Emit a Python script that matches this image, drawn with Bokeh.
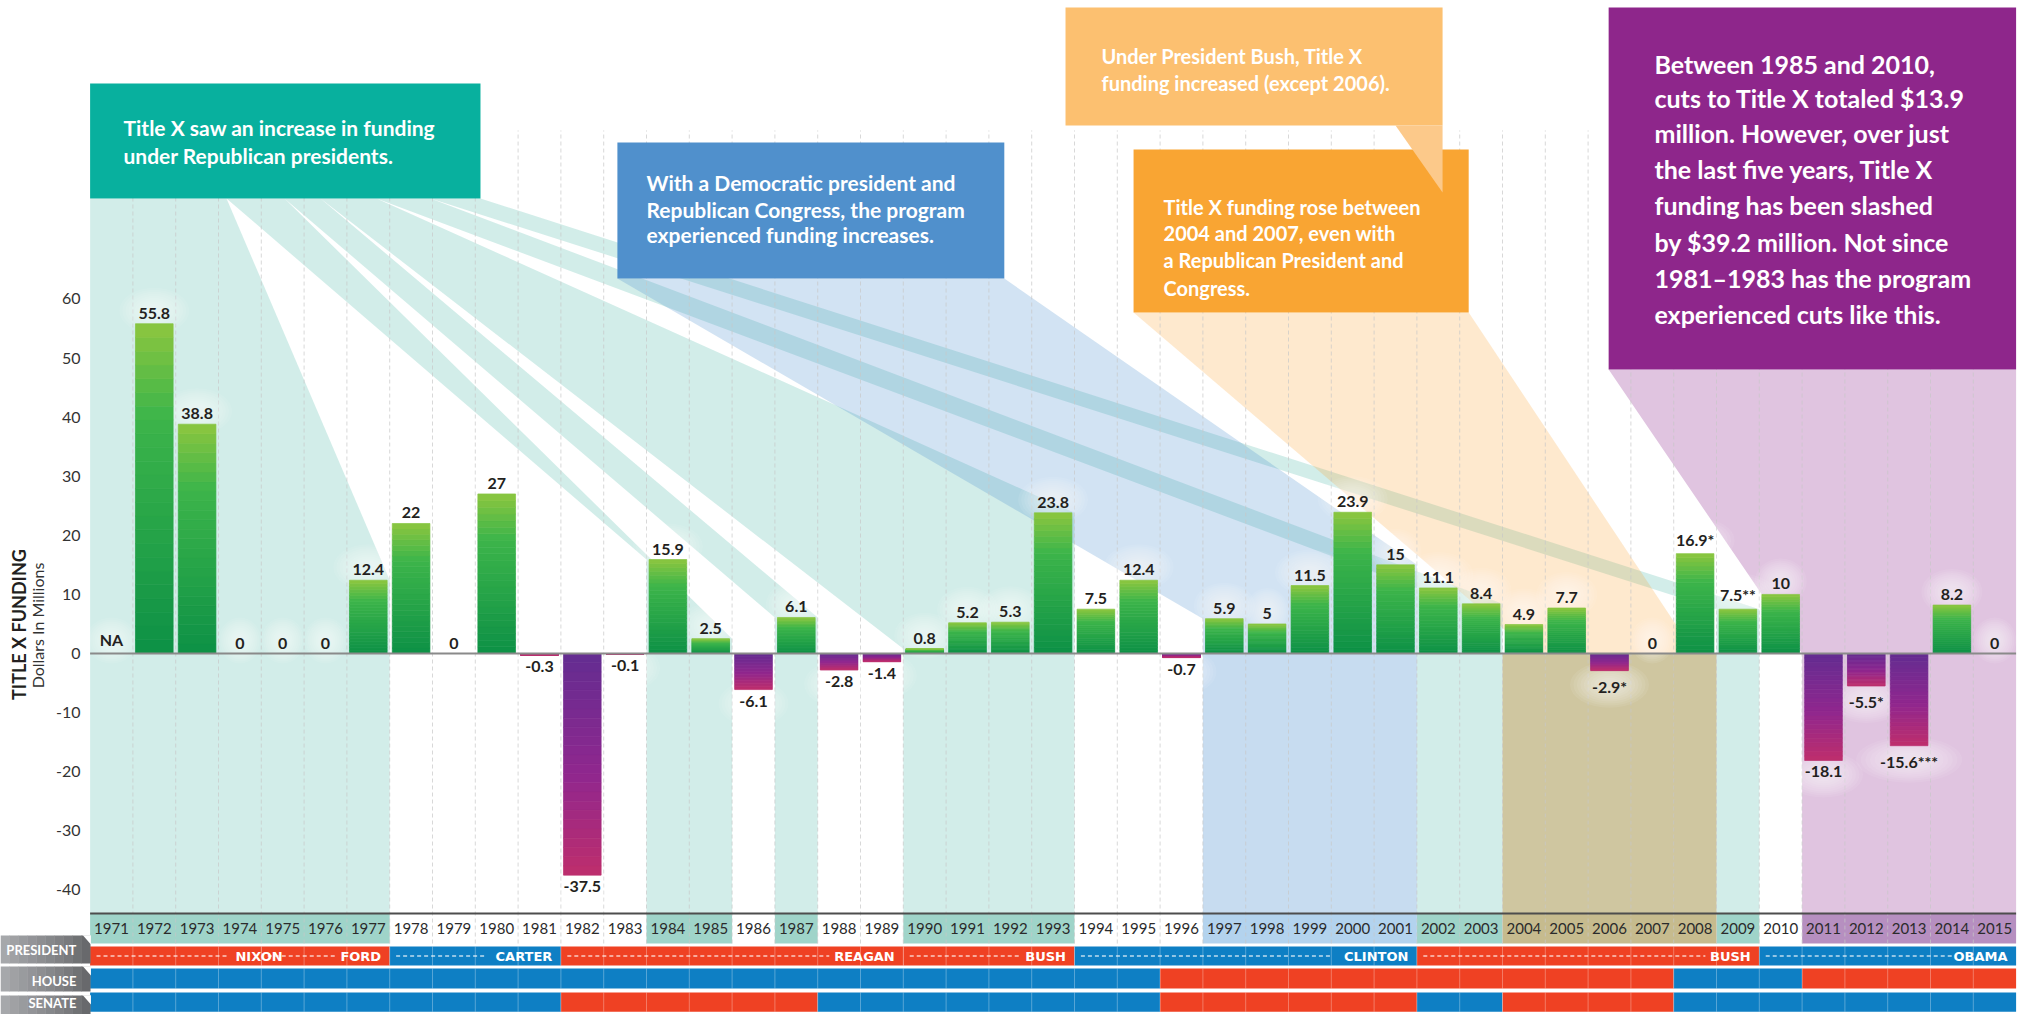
import numpy as np
from bokeh.plotting import figure
from bokeh.models import Range1d
from bokeh.core.properties import value
from bokeh.embed import file_html
from bokeh.resources import INLINE

# ---------------- data ----------------
years = list(range(1971, 2016))
funding = [None, 55.8, 38.8, 0, 0, 0, 12.4, 22, 0, 27,
           -0.3, -37.5, -0.1, 15.9, 2.5, -6.1, 6.1, -2.8, -1.4, 0.8,
           5.2, 5.3, 23.8, 7.5, 12.4, -0.7, 5.9, 5, 11.5, 23.9,
           15, 11.1, 8.4, 4.9, 7.7, -2.9, 0, 16.9, 7.5, 10,
           -18.1, -5.5, -15.6, 8.2, 0]
footnotes = {2006: "*", 2008: "*", 2009: "**", 2012: "*", 2013: "***"}
y_ticks = [60, 50, 40, 30, 20, 10, 0, -10, -20, -30, -40]

president_names = ["NIXON", "FORD", "CARTER", "REAGAN", "BUSH", "CLINTON", "BUSH", "OBAMA"]
president_party = ["R", "R", "D", "R", "R", "D", "R", "D"]
president_first = [1971, 1975, 1978, 1982, 1990, 1994, 2002, 2010]
president_last = [1974, 1977, 1981, 1989, 1993, 2001, 2009, 2015]
president_label_end = [1975.0, 1977.3, 1981.3, 1989.3, 1993.3, 2001.3, 2009.3, 2015.3]

house_runs = [("D", 1971, 1995), ("R", 1996, 2007), ("D", 2008, 2010), ("R", 2011, 2015)]
senate_runs = [("D", 1971, 1981), ("R", 1982, 1987), ("D", 1988, 1995), ("R", 1996, 2001),
               ("D", 2002, 2003), ("R", 2004, 2007), ("D", 2008, 2015)]

teal_groups = [(1971, 1977), (1984, 1985), (1987, 1987), (1990, 1993), (2002, 2003), (2009, 2009)]
blue_groups = [(1997, 2001)]
khaki_groups = [(2004, 2008)]
purple_groups = [(2011, 2015)]

# ---------------- layout (data units: years / $M) ----------------
X0, X1 = 1968.4065, 2015.7897
Y0, Y1 = -61.08, 110.49
AXIS_Y = -44.0
YEAR_ROW = (-49.07, -44.0)
PRES_ROW = (-52.79, -49.58)
HOUSE_ROW = (-56.68, -53.30)
SENATE_ROW = (-60.6, -57.36)
BAR_HALF = 0.44
GRID_TOP = 88.5
PX_PER_UNIT = 5.91   # vertical pixels per $1M, used only to offset label halos

RED, BLUE = "#ef4123", "#0e7fc4"
PARTY = {"R": RED, "D": BLUE}
FONT = value("Lato")
DARK = "#231f20"

p = figure(width=2028, height=1014, x_range=Range1d(X0, X1), y_range=Range1d(Y0, Y1),
           output_backend="svg", toolbar_location=None, min_border=0,
           x_axis_location=None, y_axis_location=None)
p.grid.visible = False
p.outline_line_color = None
p.background_fill_color = "white"
p.border_fill_color = "white"


def val(yr):
    v = funding[years.index(yr)]
    return 0 if v is None else v


def hexrgb(h):
    h = h.lstrip("#")
    return np.array([int(h[i:i + 2], 16) for i in (0, 2, 4)], dtype=float)


def ramp(stops, t):
    for (t0, c0), (t1, c1) in zip(stops[:-1], stops[1:]):
        if t <= t1:
            f = (t - t0) / (t1 - t0) if t1 > t0 else 0
            c = hexrgb(c0) * (1 - f) + hexrgb(c1) * f
            return "#%02x%02x%02x" % tuple(int(round(x)) for x in c)
    return stops[-1][1]


# ---------------- beams & highlight bands ----------------
def beam(sx0, sx1, sy, first, last, vl=None, vr=None):
    L, R = first - 0.5, last + 0.5
    if vl is None:
        vl = max(val(first), 0)
    if vr is None:
        vr = max(val(last), 0)
    return [sx0, sx1, R, R, L, L], [sy, sy, vr, AXIS_Y, AXIS_Y, vl]


TEAL_BOX = (1970.5, 1979.621, 76.99, 96.45)
BLUE_BOX = (1982.82, 1991.86, 63.45, 86.46)
LORANGE_BOX = (1993.29, 2002.10, 89.34, 109.3)
ORANGE_BOX = (1994.88, 2002.71, 57.70, 85.28)
PURPLE_BOX = (2005.98, 2015.5, 48.05, 109.3)

teal_starts = [1970.5, 1973.687, 1975.042, 1975.883, 1977.192, 1978.453, 1979.621]
bxs, bys = [], []
for i, (f, l) in enumerate(teal_groups):
    kw = {"vl": TEAL_BOX[2]} if i == 0 else {}
    xs, ys = beam(teal_starts[i], teal_starts[i + 1], TEAL_BOX[2], f, l, **kw)
    bxs.append(xs)
    bys.append(ys)
p.patches(bxs, bys, fill_color="#43b4a2", fill_alpha=0.24, line_color=None)

# blue beam
f, l = blue_groups[0]
xs, ys = beam(BLUE_BOX[0], BLUE_BOX[1], BLUE_BOX[2], f, l)
p.patches([xs], [ys], fill_color="#4a90d0", fill_alpha=0.25, line_color=None)
p.quad(left=[f - 0.5], right=[l + 0.5], bottom=[AXIS_Y], top=[0],
       fill_color="#4a90d0", fill_alpha=0.08, line_color=None)

# peach beam toward 2004-2007 and khaki band
f, l = khaki_groups[0]
p.patches([[ORANGE_BOX[0], ORANGE_BOX[1], 2008.0, 2004.2]],
          [[ORANGE_BOX[2], ORANGE_BOX[2], 0, 0]],
          fill_color="#f9a533", fill_alpha=0.24, line_color=None)
p.quad(left=[f - 0.5], right=[l + 0.5], bottom=[AXIS_Y], top=[0],
       fill_color="#ad9d5c", fill_alpha=0.58, line_color=None)

# purple beam
f, l = purple_groups[0]
p.patches([[PURPLE_BOX[0], l + 0.5, l + 0.5, f - 0.5, f - 0.5]],
          [[PURPLE_BOX[2], PURPLE_BOX[2], AXIS_Y, AXIS_Y, 0]],
          fill_color="#8e268b", fill_alpha=0.27, line_color=None)

# ---------------- year label row backgrounds ----------------
row_l, row_r, row_c = [], [], []
for groups, col in [(teal_groups, "#9fd4c9"), (blue_groups, "#b3d3ee"),
                    (khaki_groups, "#c6bb8e"), (purple_groups, "#b68fc0")]:
    for f, l in groups:
        row_l.append(f - 0.5)
        row_r.append(l + 0.5)
        row_c.append(col)
p.quad(left=row_l, right=row_r, bottom=YEAR_ROW[0], top=YEAR_ROW[1], fill_color=row_c, line_color=None)

# ---------------- dashed gridlines ----------------
gx = [y + 0.5 for y in years[:-1]]
p.segment(x0=gx, y0=[YEAR_ROW[0]] * len(gx), x1=gx, y1=[GRID_TOP] * len(gx),
          line_color="#c8c8c8", line_dash="4 3", line_width=1, line_alpha=0.7)

# ---------------- annotation boxes ----------------
for (l, r, b, t), col in [(TEAL_BOX, "#08b09e"), (BLUE_BOX, "#5090cc"), (LORANGE_BOX, "#fcc070"),
                          (ORANGE_BOX, "#f9a533"), (PURPLE_BOX, "#8e268b")]:
    p.quad(left=[l], right=[r], bottom=[b], top=[t], fill_color=col, line_color=None)
# callout tail of the light-orange box
p.patches([[2001.0, LORANGE_BOX[1], LORANGE_BOX[1]]], [[LORANGE_BOX[2], LORANGE_BOX[2], 78.0]],
          fill_color="#fcc98a", line_color=None)

box_texts = [
    (["Title X saw an increase in funding", "under Republican presidents."],
     1971.28, [89.0, 84.26], "21px"),
    (["With a Democratic president and", "Republican Congress, the program", "experienced funding increases."],
     1983.50, [79.70, 75.13, 70.9], "21px"),
    (["Under President Bush, Title X", "funding increased (except 2006)."],
     1994.13, [101.18, 96.6], "20px"),
    (["Title X funding rose between", "2004 and 2007, even with", "a Republican President and", "Congress."],
     1995.58, [75.6, 71.1, 66.5, 61.9], "20px"),
    (["Between 1985 and 2010,", "cuts to Title X totaled $13.9", "million. However, over just",
      "the last five years, Title X", "funding has been slashed", "by $39.2 million. Not since",
      "1981\u20131983 has the program", "experienced cuts like this."],
     2007.05, [99.83, 93.91, 87.99, 82.06, 75.97, 69.71, 63.62, 57.53], "25px"),
]
for lines, x, ys, size in box_texts:
    p.text(x=[x] * len(lines), y=ys, text=lines, text_font=FONT, text_font_style="bold",
           text_font_size=size, text_color="white", text_align="left", text_baseline="middle")


# ---------------- value labels (with soft halos) ----------------
def fmt(v):
    if v is None:
        return "NA"
    return str(int(v)) if float(v).is_integer() else str(v)


pos_x, pos_y, pos_t, neg_x, neg_y, neg_t = [], [], [], [], [], []
hx, hy, hw = [], [], []
for yr, v in zip(years, funding):
    lab = fmt(v) + footnotes.get(yr, "")
    if v is None or v >= 0:
        base = 0 if v is None else v
        pos_x.append(yr)
        pos_y.append(base)
        pos_t.append(lab)
        hy.append(base + 13 / PX_PER_UNIT)
    else:
        neg_x.append(yr)
        neg_y.append(v)
        neg_t.append(lab)
        hy.append(v - 14 / PX_PER_UNIT)
    hx.append(yr)
    hw.append(len(lab) * 9 + 34)
for scale in np.linspace(1.0, 0.3, 9):
    p.ellipse(x=hx, y=hy, width=[w * scale for w in hw], height=46 * scale,
              width_units="screen", height_units="screen",
              fill_color="white", fill_alpha=0.08, line_color=None)

# ---------------- gradient bars ----------------
GREEN_STOPS = [(0.0, "#8dc63f"), (0.28, "#3db54a"), (1.0, "#0d9146")]
PURPLE_STOPS = [(0.0, "#632d91"), (0.55, "#90278e"), (1.0, "#be2e6c")]
N = 24
ql, qr, qb, qt, qc = [], [], [], [], []
for yr, v in zip(years, funding):
    if v is None or v == 0:
        continue
    for k in range(N):
        lo, hi = v * k / N, v * (k + 1) / N
        if v > 0:
            t = 1 - (k + 0.5) / N
            col = ramp(GREEN_STOPS, t)
        else:
            t = (k + 0.5) / N
            col = ramp(PURPLE_STOPS, t)
        ql.append(yr - BAR_HALF)
        qr.append(yr + BAR_HALF)
        qb.append(min(lo, hi))
        qt.append(max(lo, hi))
        qc.append(col)
p.quad(left=ql, right=qr, bottom=qb, top=qt, fill_color=qc, line_color=qc, line_width=0.7)

# zero line and year axis line
p.segment(x0=[1970.5], y0=[0], x1=[2015.5], y1=[0], line_color="#8a8a8a", line_width=2)
p.segment(x0=[1970.5], y0=[AXIS_Y], x1=[2015.5], y1=[AXIS_Y], line_color="#4d4d4d", line_width=2)

p.text(x=pos_x, y=pos_y, text=pos_t, text_font=FONT, text_font_style="bold", text_font_size="16px",
       text_color=DARK, text_align="center", text_baseline="bottom", y_offset=-5)
p.text(x=neg_x, y=neg_y, text=neg_t, text_font=FONT, text_font_style="bold", text_font_size="16px",
       text_color=DARK, text_align="center", text_baseline="top", y_offset=6)

# ---------------- y tick labels and axis title ----------------
p.text(x=[1970.276] * len(y_ticks), y=y_ticks, text=[str(t) for t in y_ticks], text_font=FONT,
       text_font_size="16px", text_color="#333333", text_align="right", text_baseline="middle")
p.text(x=[1968.83], y=[4.9], text=["TITLE X FUNDING"], text_font=FONT, text_font_style="bold",
       text_font_size="18px", text_color=DARK, text_align="center", text_baseline="middle",
       angle=np.pi / 2)
p.text(x=[1969.27], y=[4.74], text=["Dollars In Millions"], text_font=FONT,
       text_font_size="16px", text_color="#333333", text_align="center", text_baseline="middle",
       angle=np.pi / 2)

# ---------------- year labels ----------------
p.text(x=years, y=[(YEAR_ROW[0] + YEAR_ROW[1]) / 2] * len(years), text=[str(y) for y in years],
       text_font=FONT, text_font_size="15px", text_color="#2b2b2b", text_align="center",
       text_baseline="middle")


# ---------------- party strips ----------------
def runs_to_quads(runs, row):
    l, r, c = [], [], []
    for party, f, la in runs:
        l.append(f - 0.5)
        r.append(la + 0.5)
        c.append(PARTY[party])
    p.quad(left=l, right=r, bottom=row[0], top=row[1], fill_color=c, line_color=None)


runs_to_quads(list(zip(president_party, president_first, president_last)), PRES_ROW)
runs_to_quads(house_runs, HOUSE_ROW)
runs_to_quads(senate_runs, SENATE_ROW)
for row in (PRES_ROW, HOUSE_ROW, SENATE_ROW):
    p.segment(x0=gx, y0=[row[0]] * len(gx), x1=gx, y1=[row[1]] * len(gx),
              line_color="white", line_alpha=0.3, line_width=1)

# president names and dotted leaders
pm = (PRES_ROW[0] + PRES_ROW[1]) / 2
lx0, lx1 = [], []
for name, first, end in zip(president_names, president_first, president_label_end):
    lx0.append(first - 0.5 + 0.15)
    lx1.append(end - len(name) * 0.235 - 0.12)
p.segment(x0=lx0, y0=[pm] * len(lx0), x1=lx1, y1=[pm] * len(lx0), line_color="white",
          line_alpha=0.55, line_width=2, line_dash="4 3")
p.text(x=president_label_end, y=[pm] * len(president_names), text=president_names,
       text_font=value("DejaVu Sans"), text_font_style="bold", text_font_size="13px",
       text_color="white", text_align="right", text_baseline="middle")

# row label tabs
TAB_L, TAB_R = X0, 1970.5
tabs = [("PRESIDENT", -47.72, -52.45, -50.25), ("HOUSE", -52.96, -57.19, -55.33),
        ("SENATE", -57.87, -61.2, -59.1)]
NS = 10
edges = np.linspace(TAB_L, TAB_R, NS + 1)
for name, top, bot, mid in tabs:
    cols = [ramp([(0.0, "#a9abae"), (0.7, "#7d7e81"), (1.0, "#646568")], (i + 0.5) / NS) for i in range(NS)]
    p.quad(left=list(edges[:-1]), right=list(edges[1:] + 0.01), bottom=bot, top=top,
           fill_color=cols, line_color=None)
    p.patches([[1970.33, TAB_R + 0.02, TAB_R + 0.02]], [[top + 0.05, top + 0.05, top - 1.5]],
              fill_color="white", line_color=None)
p.text(x=[1970.18] * 3, y=[t[3] for t in tabs], text=[t[0] for t in tabs], text_font=FONT,
       text_font_style="bold", text_font_size="13px", text_color="white", text_align="right",
       text_baseline="middle")

open("out.html", "w").write(file_html(p, INLINE))
